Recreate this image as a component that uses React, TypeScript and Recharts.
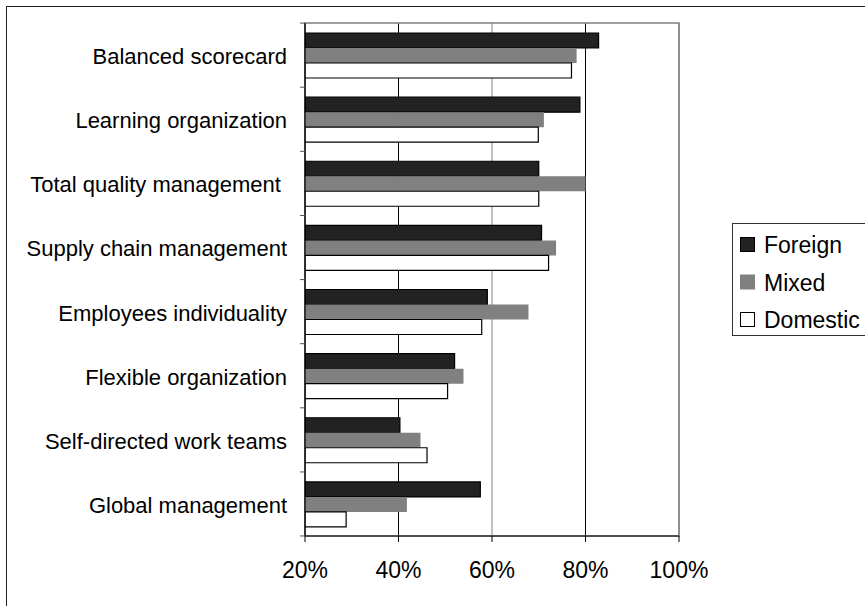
import {
  Bar,
  BarChart,
  CartesianGrid,
  ReferenceArea,
  XAxis,
  YAxis,
} from "recharts";

const categories = [
  "Balanced scorecard",
  "Learning organization",
  "Total quality management ",
  "Supply chain management",
  "Employees individuality",
  "Flexible organization",
  "Self-directed work teams",
  "Global management",
];

const foreign = [82.8, 78.8, 70.0, 70.6, 59.0, 52.0, 40.3, 57.5];
const mixed = [78.1, 71.1, 80.0, 73.7, 67.8, 53.9, 44.7, 41.8];
const domestic = [77.0, 69.9, 70.0, 72.1, 57.8, 50.5, 46.1, 28.8];

const xTicks = [20, 40, 60, 80, 100];

const data = categories.map((name, i) => ({
  name,
  foreign: foreign[i],
  mixed: mixed[i],
  domestic: domestic[i],
}));

const FONT = "'Liberation Sans', Arial, sans-serif";
const W = 865;
const H = 606;
const HALF_BAND = 32;
const GRID_STROKES = ["#000", "#000", "#808080", "#000", "#808080"];

const series = [
  { key: "foreign", label: "Foreign", fill: "#222", stroke: "#000" },
  { key: "mixed", label: "Mixed", fill: "#808080", stroke: "none" },
  { key: "domestic", label: "Domestic", fill: "#fff", stroke: "#000" },
];

function CategoryTick(props: any) {
  const { x, y, payload, index, visibleTicksCount } = props;
  const axisX = x + 18;
  return (
    <g>
      <line x1={axisX - 5} x2={axisX} y1={y - HALF_BAND} y2={y - HALF_BAND} stroke="#555" />
      {index === visibleTicksCount - 1 && (
        <line x1={axisX - 5} x2={axisX} y1={y + HALF_BAND} y2={y + HALF_BAND} stroke="#555" />
      )}
      <text
        x={x}
        y={y + 9}
        textAnchor="end"
        fontFamily={FONT}
        fontSize={22}
        fill="#000"
        style={{ whiteSpace: "pre" }}
      >
        {payload.value}
      </text>
    </g>
  );
}

function PercentTick(props: any) {
  const { x, y, payload } = props;
  return (
    <text x={x} y={y + 34} textAnchor="middle" fontFamily={FONT} fontSize={23} fill="#000">
      {`${payload.value}%`}
    </text>
  );
}

function gridLine(props: any) {
  const { x1, x2, y1, y2, index } = props;
  return (
    <line
      key={`grid-${index}`}
      x1={x1}
      x2={x2}
      y1={y1}
      y2={y2}
      stroke={GRID_STROKES[index] ?? "#000"}
      strokeWidth={1}
    />
  );
}

// legend box sits to the right of the plot and runs off the canvas edge
function BoxLegend() {
  return (
    <svg
      width={150}
      height={114}
      style={{ position: "absolute", left: 732, top: 223, display: "block" }}
    >
      <rect x={0.5} y={0.5} width={149} height={112} fill="#fff" stroke="#333" />
      {series.map((s, i) => {
        const cy = 21.5 + i * 37.5;
        return (
          <g key={s.key}>
            <rect
              x={8.5}
              y={cy - 7}
              width={14}
              height={14}
              fill={s.fill}
              stroke={s.key === "mixed" ? "#808080" : "#000"}
            />
            <text x={32} y={cy + 8.5} fontFamily={FONT} fontSize={23} fill="#000">
              {s.label}
            </text>
          </g>
        );
      })}
    </svg>
  );
}

export default function App() {
  return (
    <div
      style={{
        position: "absolute",
        left: 0,
        top: 0,
        width: W,
        height: H,
        overflow: "hidden",
        background: "#fff",
      }}
    >
      <div
        style={{
          position: "absolute",
          left: 6,
          top: 6,
          width: 940,
          height: 700,
          border: "1px solid #222",
          pointerEvents: "none",
        }}
      />
      <BarChart
        width={W}
        height={H}
        data={data}
        layout="vertical"
        barCategoryGap={10}
        barGap={0}
        margin={{ top: 23, right: 186, bottom: 0, left: 0 }}
        style={{ position: "absolute", left: 0, top: 0 }}
      >
        <CartesianGrid horizontal={false} vertical={gridLine} />
        <ReferenceArea x1={20} x2={100} fill="none" stroke="#808080" strokeWidth={1.5} />
        <XAxis
          type="number"
          domain={[20, 100]}
          ticks={xTicks}
          allowDataOverflow
          height={70}
          tickSize={6}
          tick={<PercentTick />}
          axisLine={{ stroke: "#000", strokeWidth: 1.2 }}
          tickLine={{ stroke: "#000" }}
        />
        <YAxis
          type="category"
          dataKey="name"
          width={305}
          tickSize={0}
          tickMargin={18}
          tickLine={false}
          interval={0}
          tick={<CategoryTick />}
          axisLine={{ stroke: "#000", strokeWidth: 1.2 }}
        />
        {series.map((s) => (
          <Bar
            key={s.key}
            dataKey={s.key}
            name={s.label}
            fill={s.fill}
            stroke={s.stroke}
            strokeWidth={1.2}
            isAnimationActive={false}
          />
        ))}
      </BarChart>
      <BoxLegend />
    </div>
  );
}
